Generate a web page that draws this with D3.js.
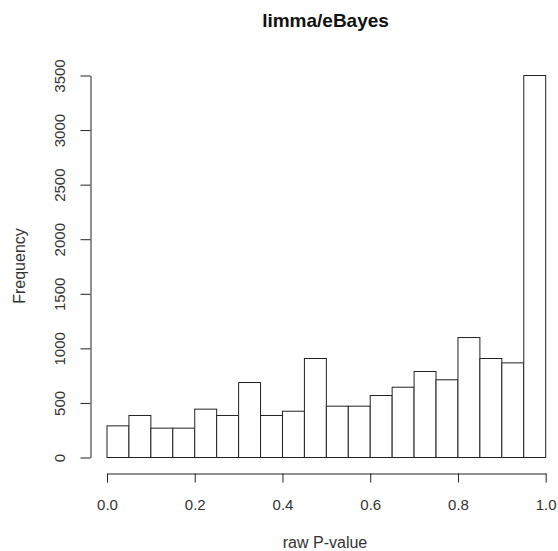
<!DOCTYPE html>
<html>
<head>
<meta charset="utf-8">
<script src="https://cdn.jsdelivr.net/npm/d3@7"></script>
<style>
  html, body { margin: 0; padding: 0; background: #fff; }
  svg { display: block; font-family: "Liberation Sans", Arial, sans-serif; }
</style>
</head>
<body>
<svg id="chart" width="558" height="551"></svg>
<script>
// Histogram data
const breaks = [0.00, 0.05, 0.10, 0.15, 0.20, 0.25, 0.30, 0.35, 0.40, 0.45, 0.50,
                0.55, 0.60, 0.65, 0.70, 0.75, 0.80, 0.85, 0.90, 0.95, 1.00];
const counts = [290, 385, 269, 269, 443, 385, 687, 385, 424, 907,
                470, 470, 568, 644, 788, 712, 1099, 907, 867, 3500];
const xTicks = [0, 0.2, 0.4, 0.6, 0.8, 1.0];
const yTicks = [0, 500, 1000, 1500, 2000, 2500, 3000, 3500];
const titleText = "limma/eBayes";
const xLabel = "raw P-value";
const yLabel = "Frequency";

const svg = d3.select("#chart");
const x = d3.scaleLinear().domain([0, 1]).range([107, 545.7]);
const y = d3.scaleLinear().domain([0, 3500]).range([457.5, 75.5]);

const bins = counts.map((c, i) => ({ x0: breaks[i], x1: breaks[i + 1], n: c }));

svg.append("g").selectAll("rect").data(bins).join("rect")
  .attr("x", d => x(d.x0))
  .attr("y", d => y(d.n))
  .attr("width", d => x(d.x1) - x(d.x0))
  .attr("height", d => y(0) - y(d.n))
  .attr("fill", "#fff")
  .attr("stroke", "#222")
  .attr("stroke-width", 1);

// X axis
const xAxisY = 473.5;
const gx = svg.append("g").attr("transform", `translate(0,${xAxisY})`)
  .call(d3.axisBottom(x).tickValues(xTicks).tickFormat(d3.format(".1f"))
        .tickSize(9).tickSizeOuter(0).tickPadding(17));
gx.select(".domain").attr("stroke", "#222");
gx.selectAll(".tick line").attr("stroke", "#222");
gx.selectAll("text").attr("font-size", 15).attr("fill", "#333")
  .attr("font-family", "Liberation Sans, Arial, sans-serif");

// Y axis
const yAxisX = 90.5;
const gy = svg.append("g").attr("transform", `translate(${yAxisX},0)`)
  .call(d3.axisLeft(y).tickValues(yTicks).tickFormat(d3.format("d"))
        .tickSize(10).tickSizeOuter(0).tickPadding(0));
gy.select(".domain").attr("stroke", "#222");
gy.selectAll(".tick line").attr("stroke", "#222");
gy.selectAll(".tick text")
  .attr("font-size", 15).attr("fill", "#333")
  .attr("font-family", "Liberation Sans, Arial, sans-serif")
  .attr("text-anchor", "middle")
  .attr("dy", null)
  .attr("x", null)
  .attr("transform", "translate(-25.5,0) rotate(-90)");

// Title
svg.append("text")
  .attr("x", 325.5).attr("y", 26.5)
  .attr("text-anchor", "middle")
  .attr("font-size", 19).attr("font-weight", "bold").attr("fill", "#111")
  .text(titleText);

// X label
svg.append("text")
  .attr("x", 325).attr("y", 548)
  .attr("text-anchor", "middle")
  .attr("font-size", 16).attr("fill", "#333")
  .text(xLabel);

// Y label
svg.append("text")
  .attr("transform", "translate(25,266) rotate(-90)")
  .attr("text-anchor", "middle")
  .attr("font-size", 16).attr("fill", "#333")
  .text(yLabel);
</script>
</body>
</html>
